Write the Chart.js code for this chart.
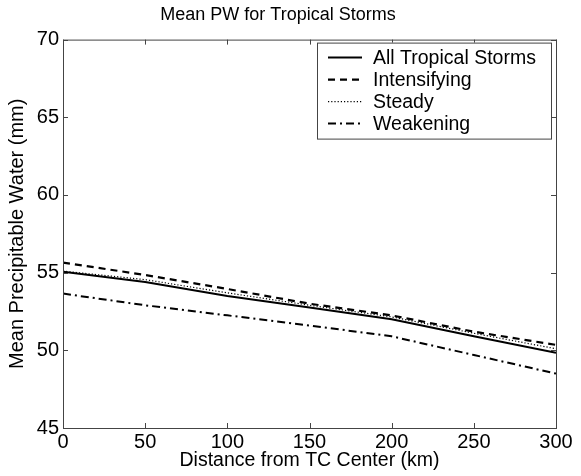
<!DOCTYPE html>
<html>
<head>
<meta charset="utf-8">
<script src="https://cdn.jsdelivr.net/npm/chart.js@4"></script>
<style>
  html, body { margin: 0; padding: 0; background: #fff; }
  #wrap { width: 581px; height: 476px; }
</style>
</head>
<body>
<div id="wrap"><canvas id="chart"></canvas></div>
<script>
// values
const distance = [0, 50, 100, 150, 200, 250, 300];
const allStorms = [55.05, 54.4, 53.5, 52.75, 52.0, 50.9, 49.85];
const intensifying = [55.65, 54.85, 53.95, 53.0, 52.25, 51.2, 50.35];
const steady = [55.1, 54.55, 53.7, 52.9, 52.15, 51.1, 50.1];
const weakening = [53.65, 52.9, 52.25, 51.6, 50.9, 49.7, 48.5];

const xTicks = [0, 50, 100, 150, 200, 250, 300];
const yTicks = [45, 50, 55, 60, 65, 70];

const FONT = 'Liberation Sans, Arial, sans-serif';

const toPoints = vals => distance.map((d, i) => ({ x: d, y: vals[i] }));

const series = [
  { label: 'All Tropical Storms', data: allStorms, dash: [], width: 2 },
  { label: 'Intensifying', data: intensifying, dash: [7, 5], width: 2.2 },
  { label: 'Steady', data: steady, dash: [1.2, 2], width: 1.2 },
  { label: 'Weakening', data: weakening, dash: [8, 4, 2, 4], width: 2 }
];

// MATLAB-style frame: inward ticks on all four sides, box around plot
const framePlugin = {
  id: 'frame',
  afterDatasetsDraw(chart) {
    const { ctx, chartArea: a, scales } = chart;
    ctx.save();
    ctx.strokeStyle = '#444';
    ctx.lineWidth = 1;
    ctx.setLineDash([]);
    ctx.strokeRect(a.left + 0.5, a.top + 0.5, a.right - a.left, a.bottom - a.top);
    const len = 5;
    ctx.beginPath();
    xTicks.forEach(v => {
      const x = Math.round(scales.x.getPixelForValue(v)) + 0.5;
      ctx.moveTo(x, a.bottom); ctx.lineTo(x, a.bottom - len);
      ctx.moveTo(x, a.top); ctx.lineTo(x, a.top + len);
    });
    yTicks.forEach(v => {
      const y = Math.round(scales.y.getPixelForValue(v)) + 0.5;
      ctx.moveTo(a.left, y); ctx.lineTo(a.left + len, y);
      ctx.moveTo(a.right, y); ctx.lineTo(a.right - len, y);
    });
    ctx.stroke();
    ctx.restore();
  }
};

// legend box in the upper right, with the line style samples
const legendPlugin = {
  id: 'boxLegend',
  afterDraw(chart) {
    const { ctx, chartArea: a } = chart;
    const right = a.right - 5, top = a.top + 3;
    const w = 234, h = 96;
    const left = right - w;
    ctx.save();
    ctx.fillStyle = '#fff';
    ctx.fillRect(left, top, w, h);
    ctx.strokeStyle = '#444';
    ctx.lineWidth = 1;
    ctx.setLineDash([]);
    ctx.strokeRect(left + 0.5, top + 0.5, w, h);
    ctx.font = '19.5px ' + FONT;
    ctx.textBaseline = 'middle';
    chart.data.datasets.forEach((ds, i) => {
      const y = top + 15 + i * 22;
      ctx.beginPath();
      ctx.strokeStyle = '#000';
      ctx.lineWidth = ds.borderWidth;
      ctx.setLineDash(ds.borderDash || []);
      ctx.moveTo(left + 11, y);
      ctx.lineTo(left + 45, y);
      ctx.stroke();
      ctx.fillStyle = '#000';
      ctx.fillText(ds.label, left + 56, y + 1);
    });
    ctx.restore();
  }
};

new Chart(document.getElementById('chart'), {
  type: 'line',
  data: {
    datasets: series.map(s => ({
      label: s.label,
      data: toPoints(s.data),
      borderColor: '#000',
      borderWidth: s.width,
      borderDash: s.dash,
      pointRadius: 0,
      tension: 0,
      fill: false
    }))
  },
  options: {
    responsive: true,
    maintainAspectRatio: false,
    animation: false,
    layout: { padding: { top: 0, right: 25, left: 0, bottom: 0 } },
    plugins: {
      legend: { display: false },
      tooltip: { enabled: false },
      title: {
        display: true,
        text: 'Mean PW for Tropical Storms',
        color: '#000',
        font: { family: FONT, size: 18, weight: 'normal' },
        padding: { top: 4, bottom: 14 }
      }
    },
    scales: {
      x: {
        type: 'linear',
        min: 0,
        max: 300,
        afterBuildTicks: axis => { axis.ticks = xTicks.map(v => ({ value: v })); },
        afterFit: axis => { axis.height = 48; },
        grid: { display: false, drawTicks: false },
        border: { display: false },
        ticks: {
          color: '#000',
          padding: 2,
          maxRotation: 0,
          font: { family: FONT, size: 20 }
        },
        title: {
          display: true,
          text: 'Distance from TC Center (km)',
          color: '#000',
          font: { family: FONT, size: 19.5 },
          padding: { top: 0, bottom: 4 }
        }
      },
      y: {
        type: 'linear',
        min: 45,
        max: 70,
        afterBuildTicks: axis => { axis.ticks = yTicks.map(v => ({ value: v })); },
        afterFit: axis => { axis.width = 63; },
        grid: { display: false, drawTicks: false },
        border: { display: false },
        ticks: {
          color: '#000',
          padding: 4,
          font: { family: FONT, size: 20 }
        },
        title: {
          display: true,
          text: 'Mean Precipitable Water (mm)',
          color: '#000',
          font: { family: FONT, size: 20 },
          padding: { top: 5, bottom: 0 }
        }
      }
    }
  },
  plugins: [framePlugin, legendPlugin]
});
</script>
</body>
</html>
